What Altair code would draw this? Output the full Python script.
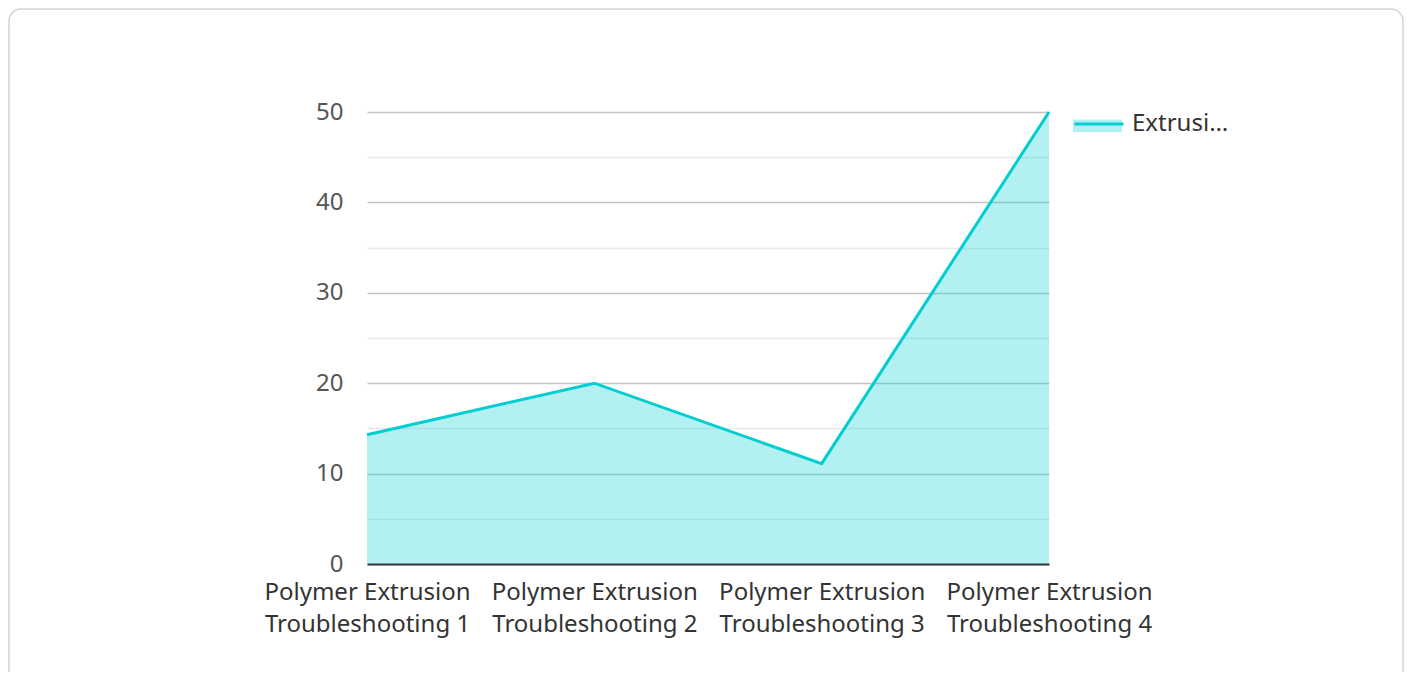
import altair as alt
import pandas as pd

categories = [
    "Polymer Extrusion Troubleshooting 1",
    "Polymer Extrusion Troubleshooting 2",
    "Polymer Extrusion Troubleshooting 3",
    "Polymer Extrusion Troubleshooting 4",
]
values = [14.3, 20.0, 11.1, 50.0]
series_name = "Extrusion Issues"
y_ticks = [0, 5, 10, 15, 20, 25, 30, 35, 40, 45, 50]

df = pd.DataFrame({"category": categories, "value": values, "series": [series_name] * len(categories)})

TEAL = "#00CED1"
FONT = "Noto Sans"

x_enc = alt.X(
    "category:N",
    sort=categories,
    scale=alt.Scale(type="point", padding=0),
    axis=alt.Axis(
        title=None,
        labelAngle=0,
        labelFont=FONT,
        labelFontSize=24,
        labelColor="#333333",
        labelPadding=16,
        labelLineHeight=32,
        labelLimit=400,
        labelExpr="[substring(datum.label, 0, 17), substring(datum.label, 18)]",
        ticks=False,
        domainColor="#333333",
        domainWidth=2,
        grid=False,
        labelBaseline="top",
    ),
)

y_scale = alt.Scale(domain=[0, 50], nice=False)
y_axis = alt.Axis(
    title=None,
    values=y_ticks,
    labelExpr="datum.value % 10 === 0 ? datum.label : ''",
    labelFont=FONT,
    labelFontSize=24,
    labelColor="#555555",
    labelPadding=24,
    ticks=False,
    domain=False,
    grid=True,
    gridColor={"condition": {"test": "datum.value % 10 !== 0", "value": "#e8e8e8"}, "value": "#c4c4c4"},
    gridWidth=1.5,
)

base = alt.Chart(df)

area = base.mark_area(opacity=0.3, interpolate="linear").encode(
    x=x_enc,
    y=alt.Y("value:Q", scale=y_scale, axis=y_axis),
    fill=alt.Fill(
        "series:N",
        scale=alt.Scale(range=[TEAL]),
        legend=alt.Legend(
            title=None,
            orient="none",
            legendX=706,
            legendY=-11,
            symbolType="M-1,-0.24 L1,-0.24 L1,0.28 L-1,0.28 Z",
            symbolSize=2401,
            symbolOpacity=0.3,
            symbolStrokeWidth=0,
            labelExpr="''",
            labelFontSize=24,
        ),
    ),
)

line = base.mark_line(strokeWidth=3, interpolate="linear").encode(
    x=x_enc,
    y=alt.Y("value:Q", scale=y_scale),
    stroke=alt.Stroke(
        "series:N",
        scale=alt.Scale(range=[TEAL]),
        legend=alt.Legend(
            title=None,
            orient="none",
            legendX=706,
            legendY=-14,
            symbolType="stroke",
            symbolSize=2401,
            symbolStrokeWidth=3,
            labelFont=FONT,
            labelFontSize=24,
            labelColor="#333333",
            labelLimit=100,
            labelOffset=7,
        ),
    ),
)

card = alt.Chart(alt.Data(values=[{}])).mark_rect(
    fill="transparent", stroke="#d4d4d4", strokeWidth=1.5, cornerRadius=12
).encode(
    x=alt.value(-358),
    x2=alt.value(1036),
    y=alt.value(-103),
    y2=alt.value(600),
)

chart = (
    alt.layer(card, area, line)
    .resolve_scale(fill="independent", stroke="independent")
    .properties(
        width=682,
        height=452,
        autosize=alt.AutoSizeParams(type="none"),
        padding={"left": 359, "top": 104, "right": 355, "bottom": 108},
        background="white",
    )
    .configure_view(stroke=None)
)

chart.save("out.html", embed_options={"renderer": "svg", "actions": False})
